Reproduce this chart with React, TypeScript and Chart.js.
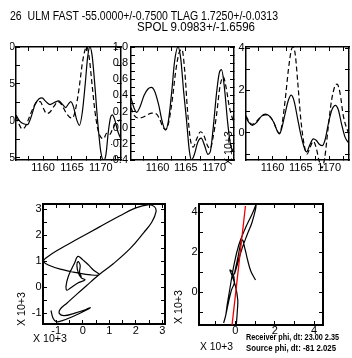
import React, { useEffect, useRef } from 'react';
import { Chart, registerables } from 'chart.js';

Chart.register(...registerables);

const FONT = "'Liberation Sans Narrow', 'Arial Narrow', 'Liberation Sans', sans-serif";

type Pt = [number, number];

// ---------- Data ----------
// Panel 1 (time, amplitude x10^3)
const p1Solid: Pt[] = [
  [1155.3, 0.8], [1155.9, 0.0], [1156.6, -0.4], [1157.3, -0.5], [1157.9, 0.5], [1158.6, 2.2],
  [1159.3, 3.0], [1159.8, 3.1], [1160.5, 2.6], [1161.2, 2.2], [1162.0, 2.5], [1162.7, 2.7],
  [1163.3, 2.3], [1163.9, 1.8], [1164.4, 2.3], [1164.8, 2.6], [1165.3, 1.8], [1165.8, 0.2],
  [1166.3, -0.6], [1166.8, 1.2], [1167.3, 5.0], [1167.7, 8.5], [1168.1, 10.0], [1168.5, 8.8],
  [1169.0, 4.5], [1169.5, -0.5], [1170.0, -4.2], [1170.5, -5.4], [1170.9, -4.5], [1171.3, -1.5],
  [1171.7, 0.5], [1172.0, 0.8], [1172.4, 0.2], [1172.9, -1.3], [1173.5, -2.5],
];
const p1Dashed: Pt[] = [
  [1155.3, 0.6], [1155.8, -0.4], [1156.4, -1.1], [1156.9, -0.8], [1157.6, 0.5], [1158.3, 1.8],
  [1159.0, 2.6], [1159.5, 2.6], [1160.1, 1.6], [1160.6, 1.0], [1161.2, 1.2], [1161.9, 2.0],
  [1162.6, 2.6], [1163.2, 2.2], [1163.9, 1.2], [1164.6, 0.5], [1165.1, 0.4], [1165.6, 1.5],
  [1166.2, 4.2], [1166.8, 7.8], [1167.3, 9.7], [1167.6, 10.0], [1168.0, 8.5], [1168.5, 4.8],
  [1169.0, 1.2], [1169.5, -1.2], [1170.0, -2.2], [1170.5, -2.4], [1171.0, -1.7], [1171.5, -1.9],
  [1172.0, -1.2], [1172.6, -0.3], [1173.5, 0.2],
];
// Panel 2
const p2Solid: Pt[] = [
  [1155.3, 0.37], [1155.8, 0.25], [1156.3, 0.19], [1156.9, 0.26], [1157.6, 0.4], [1158.3, 0.48],
  [1158.9, 0.5], [1159.5, 0.45], [1160.2, 0.28], [1160.8, 0.08], [1161.4, -0.03], [1161.9, 0.08],
  [1162.5, 0.45], [1163.0, 0.82], [1163.6, 1.0], [1164.1, 0.85], [1164.6, 0.45], [1165.1, 0.1],
  [1165.6, -0.28], [1166.0, -0.4], [1166.5, -0.33], [1167.1, -0.18], [1167.7, -0.13], [1168.3, -0.22],
  [1168.9, -0.33], [1169.3, -0.3], [1169.8, -0.02], [1170.4, 0.42], [1170.9, 0.68], [1171.3, 0.72],
  [1171.8, 0.5], [1172.4, 0.05], [1172.9, -0.22], [1173.5, -0.3],
];
const p2Dashed: Pt[] = [
  [1155.3, 0.25], [1155.9, 0.15], [1156.6, 0.12], [1157.4, 0.13], [1158.2, 0.16], [1159.0, 0.18],
  [1159.8, 0.17], [1160.4, 0.1], [1161.0, 0.0], [1161.5, -0.02], [1162.0, 0.08], [1162.6, 0.35],
  [1163.2, 0.7], [1163.8, 0.93], [1164.3, 0.97], [1164.8, 0.7], [1165.3, 0.2], [1165.8, -0.15],
  [1166.3, -0.24], [1166.9, -0.14], [1167.6, -0.05], [1168.2, -0.1], [1168.8, -0.22], [1169.3, -0.26],
  [1169.8, -0.12], [1170.4, 0.15], [1171.0, 0.5], [1171.6, 0.63], [1172.1, 0.5], [1172.7, 0.25],
  [1173.5, 0.05],
];
// Panel 3
const p3Solid: Pt[] = [
  [1155.3, 0.72], [1155.8, 0.5], [1156.4, 0.35], [1157.2, 0.5], [1158.0, 0.78], [1158.7, 0.88],
  [1159.4, 0.8], [1160.2, 0.5], [1160.8, 0.1], [1161.2, -0.05], [1161.6, 0.2], [1162.2, 0.9],
  [1162.8, 1.55], [1163.3, 1.78], [1163.8, 1.5], [1164.4, 0.7], [1165.0, -0.1], [1165.6, -0.7],
  [1166.0, -0.9], [1166.6, -0.55], [1167.2, -0.28], [1167.7, -0.35], [1168.3, -0.55], [1168.8, -0.6],
  [1169.3, -0.3], [1169.9, 0.5], [1170.5, 1.1], [1171.1, 1.3], [1171.6, 1.1], [1172.2, 0.4],
  [1172.8, -0.2], [1173.5, -0.5],
];
const p3Dashed: Pt[] = [
  [1155.3, 0.8], [1155.8, 0.55], [1156.4, 0.4], [1157.2, 0.55], [1158.0, 0.78], [1158.7, 0.85],
  [1159.4, 0.8], [1160.2, 0.5], [1160.8, 0.1], [1161.2, -0.02], [1161.6, 0.3], [1162.2, 1.5],
  [1162.8, 3.0], [1163.3, 3.9], [1163.6, 4.05], [1164.0, 3.7], [1164.5, 2.2], [1165.0, 0.6],
  [1165.6, -0.6], [1166.1, -1.0], [1166.6, -0.7], [1167.2, -0.4], [1167.7, -0.7], [1168.2, -1.3],
  [1168.7, -1.65], [1169.2, -1.2], [1169.8, 0.2], [1170.4, 1.5], [1171.0, 2.2], [1171.4, 2.3],
  [1171.9, 1.9], [1172.5, 0.8], [1173.5, -0.1],
];
// Particle motion (x10^3)
const hodo1: Pt[] = [
  [-1.2, -0.9], [-1.12, -1.2], [-1.0, -1.33], [-0.8, -1.3], [-0.35, -1.12], [0.1, -0.9],
  [0.28, -0.79], [0.12, -0.86], [-0.3, -1.0], [-0.7, -1.1], [-0.88, -1.02], [-0.85, -0.85],
  [-0.6, -0.62], [-0.2, -0.25], [0.3, 0.2], [0.6, 0.47], [1.15, 0.9], [1.8, 1.5], [2.3, 2.1],
  [2.6, 2.5], [2.76, 2.9], [2.7, 3.1], [2.45, 3.17], [2.0, 3.05], [1.4, 2.75], [0.6, 2.3],
  [-0.2, 1.85], [-0.9, 1.45], [-1.35, 1.15], [-1.48, 1.0], [-1.3, 0.85], [-0.8, 0.68],
  [-0.2, 0.55], [0.3, 0.47], [0.62, 0.48], [0.4, 0.66], [0.2, 0.87], [0.0, 1.05], [-0.15, 1.18],
  [-0.22, 1.15], [-0.3, 0.95], [-0.42, 0.7], [-0.55, 0.4], [-0.63, 0.05], [-0.6, -0.12],
  [-0.45, -0.02], [-0.2, 0.15], [0.08, 0.28], [-0.05, 0.35], [-0.15, 0.5], [-0.22, 0.8],
  [-0.18, 0.98], [-0.1, 0.85], [-0.12, 0.55], [-0.05, 0.4],
];
const hodo2: Pt[] = [
  [0.05, -1.6], [0.1, -0.9], [0.12, -0.4], [0.0, 0.3], [-0.2, 0.9], [-0.28, 1.1], [-0.15, 1.0],
  [-0.05, 0.5], [-0.2, 0.1], [-0.35, -0.5], [-0.5, -1.2], [-0.6, -1.55], [-0.5, -1.2],
  [-0.42, -0.65], [-0.25, 0.35], [-0.09, 1.27], [0.17, 2.35], [0.51, 3.2], [0.85, 3.9],
  [1.05, 4.35], [0.85, 3.5], [0.59, 2.85], [0.34, 2.18], [0.09, 1.35], [-0.05, 0.9], [0.1, 1.6],
  [0.34, 2.6], [0.5, 2.1], [0.62, 1.6], [0.78, 1.05], [1.02, 0.6],
];
const polLine: Pt[] = [[-0.17, -1.65], [0.51, 4.3]];

const titleLine1 = '26  ULM FAST -55.0000+/-0.7500 TLAG 1.7250+/-0.0313';
const titleLine2 = 'SPOL 9.0983+/-1.6596';
const unitLabel = 'X 10+3';
const receiverText = 'Receiver phi, dt: 23.00 2.35';
const sourceText = 'Source phi, dt: -81 2.025';

// ---------- Layout / chart construction ----------
const PAD_TOP = 16;
const PAD_RIGHT = 8;

const near = (v: number, m: number) => Math.abs(v / m - Math.round(v / m)) < 1e-6;

interface AxisSpec {
  min: number; max: number; step: number; pad: number;
  label: (v: number) => string;
}
interface SeriesSpec {
  data: Pt[]; dash?: number[]; color?: string; width?: number; clip?: boolean; mono?: boolean;
}
interface PanelSpec {
  area: { l: number; t: number; r: number; b: number };
  wl: number; hb: number; frame: number;
  x: AxisSpec; y: AxisSpec; series: SeriesSpec[];
}

const timeAxis: AxisSpec = { min: 1155.3, max: 1173.5, step: 2.5, pad: 5.4, label: (v) => (near(v, 5) ? String(Math.round(v)) : '') };

const panels: PanelSpec[] = [
  {
    area: { l: 16, t: 47, r: 121, b: 160 }, wl: 6, hb: 22, frame: 1.5,
    x: timeAxis,
    y: { min: -5.3, max: 10, step: 2.5, pad: 5, label: (v) => (near(v, 5) ? String(Math.round(v)) : '') },
    series: [{ data: p1Solid, mono: true }, { data: p1Dashed, dash: [5, 3], mono: true }],
  },
  {
    area: { l: 131, t: 47, r: 234, b: 160 }, wl: 20, hb: 22, frame: 1.5,
    x: timeAxis,
    y: { min: -0.4, max: 1.0, step: 0.1, pad: 7, label: (v) => (near(v, 0.2) ? (Math.round(v * 10) / 10).toFixed(1) : '') },
    series: [{ data: p2Solid, mono: true }, { data: p2Dashed, dash: [5, 3], mono: true }],
  },
  {
    area: { l: 246, t: 47, r: 349, b: 160 }, wl: 12, hb: 22, frame: 1.5,
    x: timeAxis,
    y: { min: -1.28, max: 4.05, step: 1, pad: 5.5, label: (v) => (near(v, 2) ? String(Math.round(v)) : '') },
    series: [{ data: p3Solid, mono: true }, { data: p3Dashed, dash: [5, 3], mono: true, clip: false }],
  },
  {
    area: { l: 43, t: 204, r: 165, b: 324 }, wl: 22, hb: 20, frame: 2,
    x: { min: -1.5, max: 3.1, step: 0.5, pad: 4, label: (v) => (near(v, 1) ? String(Math.round(v)) : '') },
    y: { min: -1.42, max: 3.2, step: 0.5, pad: 5.5, label: (v) => (near(v, 1) ? String(Math.round(v)) : '') },
    series: [{ data: hodo1 }],
  },
  {
    area: { l: 199, t: 204, r: 323, b: 325 }, wl: 24, hb: 20, frame: 2,
    x: { min: -1.85, max: 4.45, step: 1, pad: 3.5, label: (v) => (near(v, 2) ? String(Math.round(v)) : '') },
    y: { min: -1.65, max: 4.4, step: 1, pad: 5.5, label: (v) => (near(v, 2) ? String(Math.round(v)) : '') },
    series: [{ data: polLine, color: '#ee0000', width: 1.3 }, { data: hodo2 }],
  },
];

function axisOpts(ax: AxisSpec, pos: string, labels: boolean, size: number, frame: number) {
  return {
    type: 'linear',
    position: pos,
    min: ax.min,
    max: ax.max,
    afterFit: (s: any) => {
      if (pos === 'left' || pos === 'right') s.width = size; else s.height = size;
    },
    ticks: {
      stepSize: ax.step,
      includeBounds: false,
      autoSkip: false,
      display: labels,
      padding: ax.pad,
      color: '#000',
      maxRotation: 0,
      minRotation: 0,
      font: { family: FONT, size: 11 },
      callback: (v: any) => ax.label(Number(v)),
    },
    grid: { display: true, drawOnChartArea: false, drawTicks: true, tickLength: -4, color: '#000', lineWidth: 1 },
    border: { display: true, color: '#000', width: frame },
  };
}

function buildConfig(p: PanelSpec): any {
  return {
    type: 'scatter',
    data: {
      datasets: p.series.map((s) => ({
        data: s.data.map(([x, y]) => ({ x, y })),
        showLine: true,
        borderColor: s.color || '#000',
        backgroundColor: s.color || '#000',
        borderWidth: s.width || 1.2,
        borderDash: s.dash || [],
        pointRadius: 0,
        fill: false,
        tension: 0.4,
        cubicInterpolationMode: s.mono ? 'monotone' : 'default',
        ...(s.clip === false ? { clip: false } : {}),
        xAxisID: 'x',
        yAxisID: 'y',
      })),
    },
    options: {
      responsive: false,
      animation: false,
      devicePixelRatio: 1,
      events: [],
      layout: { padding: { top: PAD_TOP, right: PAD_RIGHT, left: 0, bottom: 0 } },
      plugins: { legend: { display: false }, tooltip: { enabled: false }, title: { display: false } },
      scales: {
        x: axisOpts(p.x, 'bottom', true, p.hb, p.frame),
        x2: axisOpts(p.x, 'top', false, 0, p.frame),
        y: axisOpts(p.y, 'left', true, p.wl, p.frame),
        y2: axisOpts(p.y, 'right', false, 0, p.frame),
      },
    },
  };
}

function Panel({ spec }: { spec: PanelSpec }) {
  const ref = useRef<HTMLCanvasElement>(null);
  const { l, t, r, b } = spec.area;
  const left = l - spec.wl;
  const top = t - PAD_TOP;
  const width = r + PAD_RIGHT - left;
  const height = b + spec.hb - top;
  useEffect(() => {
    const chart = new Chart(ref.current as HTMLCanvasElement, buildConfig(spec));
    return () => chart.destroy();
  }, [spec]);
  return (
    <canvas
      ref={ref}
      width={width}
      height={height}
      style={{ position: 'absolute', left, top, width, height }}
    />
  );
}

export default function App() {
  const txt = { fontFamily: FONT, fill: '#000', whiteSpace: 'pre' as const };
  return (
    <div style={{ position: 'absolute', left: 0, top: 0, width: 352, height: 358, overflow: 'hidden', background: '#fff' }}>
      {panels.map((p, i) => (
        <Panel key={i} spec={p} />
      ))}
      <svg width={352} height={358} style={{ position: 'absolute', left: 0, top: 0, pointerEvents: 'none' }}>
        <text x={10} y={20} fontSize={12} textLength={268} lengthAdjust="spacingAndGlyphs" style={txt}>{titleLine1}</text>
        <text x={137} y={30.5} fontSize={12} textLength={118} lengthAdjust="spacingAndGlyphs" style={txt}>{titleLine2}</text>
        <text x={33} y={342} fontSize={11} textLength={34} lengthAdjust="spacingAndGlyphs" style={txt}>{unitLabel}</text>
        <text transform="translate(25,309) rotate(-90)" x={0} y={0} textAnchor="middle" fontSize={11} textLength={34} lengthAdjust="spacingAndGlyphs" style={txt}>{unitLabel}</text>
        <text x={200} y={350} fontSize={11} textLength={33} lengthAdjust="spacingAndGlyphs" style={txt}>{unitLabel}</text>
        <text transform="translate(182,307) rotate(-90)" x={0} y={0} textAnchor="middle" fontSize={11} textLength={34} lengthAdjust="spacingAndGlyphs" style={txt}>{unitLabel}</text>
        <text transform="translate(232,148) rotate(-90)" x={0} y={0} textAnchor="middle" fontSize={11} textLength={34} lengthAdjust="spacingAndGlyphs" style={txt}>{unitLabel}</text>
        <text x={246} y={340} fontSize={9.5} fontWeight="bold" textLength={93} lengthAdjust="spacingAndGlyphs" style={txt}>{receiverText}</text>
        <text x={246} y={350.5} fontSize={9.5} fontWeight="bold" textLength={90} lengthAdjust="spacingAndGlyphs" style={txt}>{sourceText}</text>
      </svg>
    </div>
  );
}
